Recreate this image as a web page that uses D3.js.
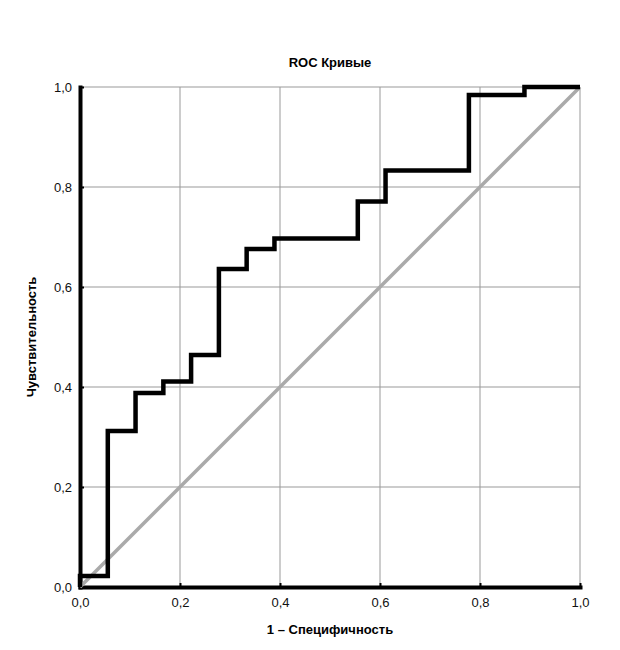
<!DOCTYPE html>
<html>
<head>
<meta charset="utf-8">
<script src="https://cdn.jsdelivr.net/npm/d3@7"></script>
<style>
  body { margin: 0; background: #fff; }
  svg text { font-family: "Liberation Sans", Arial, sans-serif; }
</style>
</head>
<body>
<div id="chart"></div>
<script>
// ROC step points: 1 - specificity, sensitivity
const fpr = [0, 0, 0.0556, 0.0556, 0.1111, 0.1111, 0.1667, 0.1667, 0.2222, 0.2222, 0.2778, 0.2778,
  0.3333, 0.3333, 0.3889, 0.3889, 0.5556, 0.5556, 0.6111, 0.6111, 0.7778, 0.7778, 0.8889, 0.8889, 1];
const tpr = [0, 0.022, 0.022, 0.312, 0.312, 0.388, 0.388, 0.411, 0.411, 0.464, 0.464, 0.636,
  0.636, 0.676, 0.676, 0.697, 0.697, 0.771, 0.771, 0.833, 0.833, 0.984, 0.984, 1, 1];
const refLine = [0, 1];
const tickValues = [0, 0.2, 0.4, 0.6, 0.8, 1.0];

const width = 620, height = 650;
const marginLeft = 80, marginRight = 40, marginTop = 87, marginBottom = 63;

const x = d3.scaleLinear().domain([0, 1]).range([marginLeft, width - marginRight]);
const y = d3.scaleLinear().domain([0, 1]).range([height - marginBottom, marginTop]);
const fmt = d => d3.format(".1f")(d).replace(".", ",");

const svg = d3.select("#chart").append("svg")
    .attr("width", width)
    .attr("height", height);

// grid
svg.append("g")
    .attr("stroke", "#999")
    .attr("stroke-width", 1)
    .call(g => g.selectAll("line.v").data(tickValues.slice(1)).join("line")
        .attr("x1", d => x(d)).attr("x2", d => x(d))
        .attr("y1", y(0)).attr("y2", y(1)))
    .call(g => g.selectAll("line.h").data(tickValues.slice(1)).join("line")
        .attr("class", "h")
        .attr("x1", x(0)).attr("x2", x(1))
        .attr("y1", d => y(d)).attr("y2", d => y(d)));

// axes
svg.append("g")
    .attr("transform", `translate(0,${y(0)})`)
    .call(d3.axisBottom(x).tickValues(tickValues).tickFormat(fmt).tickSizeInner(-4).tickSizeOuter(0).tickPadding(11))
    .call(g => g.select(".domain").attr("stroke-width", 4).attr("stroke-linecap", "square"))
    .call(g => g.selectAll(".tick line").attr("stroke-width", 2))
    .call(g => g.selectAll(".tick text").attr("font-size", 13).attr("fill", "#111"));

svg.append("g")
    .attr("transform", `translate(${x(0)},0)`)
    .call(d3.axisLeft(y).tickValues(tickValues).tickFormat(fmt).tickSizeInner(-4).tickSizeOuter(0).tickPadding(8))
    .call(g => g.select(".domain").attr("stroke-width", 4).attr("stroke-linecap", "square"))
    .call(g => g.selectAll(".tick line").attr("stroke-width", 2))
    .call(g => g.selectAll(".tick text").attr("font-size", 13).attr("fill", "#111"));

// reference diagonal
svg.append("path")
    .datum(refLine)
    .attr("fill", "none")
    .attr("stroke", "#aaa")
    .attr("stroke-width", 3.5)
    .attr("d", d3.line().x(d => x(d)).y(d => y(d)));

// ROC curve
svg.append("path")
    .datum(d3.range(fpr.length))
    .attr("fill", "none")
    .attr("stroke", "#000")
    .attr("stroke-width", 4.5)
    .attr("stroke-linejoin", "miter")
    .attr("d", d3.line().x(i => x(fpr[i])).y(i => y(tpr[i])));

// labels
svg.append("text")
    .attr("x", 330).attr("y", 67)
    .attr("text-anchor", "middle")
    .attr("font-size", 13).attr("font-weight", "bold")
    .text("ROC Кривые");

svg.append("text")
    .attr("x", 330).attr("y", 634)
    .attr("text-anchor", "middle")
    .attr("font-size", 13).attr("font-weight", "bold")
    .text("1 – Специфичность");

svg.append("text")
    .attr("transform", `translate(36,${(y(0) + y(1)) / 2}) rotate(-90)`)
    .attr("text-anchor", "middle")
    .attr("font-size", 13).attr("font-weight", "bold")
    .text("Чувствительность");
</script>
</body>
</html>
